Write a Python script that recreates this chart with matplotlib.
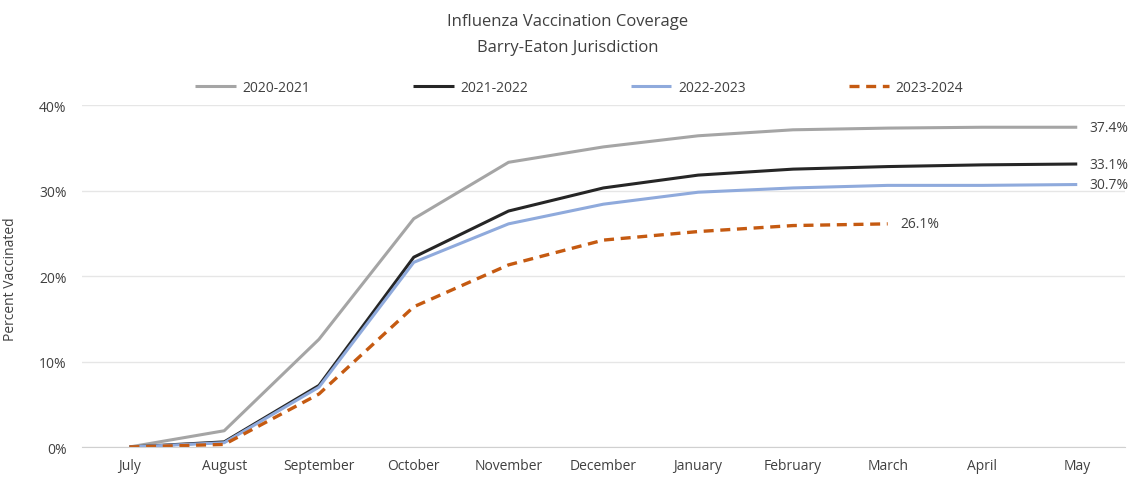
import matplotlib
matplotlib.use("Agg")
import matplotlib.pyplot as plt
from matplotlib.ticker import FuncFormatter

months = ["July", "August", "September", "October", "November", "December",
          "January", "February", "March", "April", "May"]
s2020 = [0.0, 1.9, 12.6, 26.7, 33.3, 35.1, 36.4, 37.1, 37.3, 37.4, 37.4]
s2021 = [0.0, 0.6, 7.2, 22.2, 27.6, 30.3, 31.8, 32.5, 32.8, 33.0, 33.1]
s2022 = [0.0, 0.5, 7.0, 21.6, 26.1, 28.4, 29.8, 30.3, 30.6, 30.6, 30.7]
s2023 = [0.0, 0.3, 6.2, 16.4, 21.3, 24.2, 25.2, 25.9, 26.1]
series_names = ["2020-2021", "2021-2022", "2022-2023", "2023-2024"]
end_labels = ["37.4%", "33.1%", "30.7%", "26.1%"]
yticks = [0, 10, 20, 30, 40]

plt.rcParams['font.family'] = ['Open Sans', 'DejaVu Sans']

fig = plt.figure(figsize=(11.36, 4.81), dpi=100)
ax = fig.add_axes([0.0722, 0.0686, 0.9178, 0.711])

x = list(range(len(months)))
styles = [
    dict(color="#a5a5a5", lw=2.2, ls="-"),
    dict(color="#262626", lw=2.2, ls="-"),
    dict(color="#8faadc", lw=2.2, ls="-"),
    dict(color="#c55a11", lw=2.4, ls=(0, (3, 2))),
]
data = [s2020, s2021, s2022, s2023]
handles = []
for name, d, st in zip(series_names, data, styles):
    h, = ax.plot(x[:len(d)], d, label=name, solid_capstyle="butt", **st)
    handles.append(h)

for d, lab in zip(data, end_labels):
    ax.text(len(d) - 1 + 0.13, d[-1], lab, fontsize=10, color="#404040",
            va="center", ha="left")

ax.set_xlim(-0.5, 10.5)
ax.set_ylim(0, 40)
ax.set_yticks(yticks)
ax.yaxis.set_major_formatter(FuncFormatter(lambda v, p: f"{int(v)}%"))
ax.set_xticks(x)
ax.set_xticklabels(months)
ax.tick_params(axis="both", length=0, labelsize=10, colors="#404040")
ax.tick_params(axis="x", pad=8)
ax.tick_params(axis="y", pad=11)
ax.grid(axis="y", color="#e6e6e6", lw=1)
ax.set_axisbelow(True)
for sp in ["top", "right", "left"]:
    ax.spines[sp].set_visible(False)
ax.spines["bottom"].set_color("#d0d0d0")

fig.text(0.5, 0.955, "Influenza Vaccination Coverage", ha="center", va="center",
         fontsize=12, color="#404040")
fig.text(0.5, 0.9, "Barry-Eaton Jurisdiction", ha="center", va="center",
         fontsize=12, color="#404040")

fig.text(0.009, 0.42, "Percent Vaccinated", rotation=90, ha="center", va="center",
         fontsize=10, color="#404040")

fig.legend(handles=handles, labels=series_names, loc="center left",
           bbox_to_anchor=(0.161, 0.817), ncol=4, frameon=False, fontsize=10,
           handlelength=2.9, handletextpad=0.5, columnspacing=7.4,
           labelcolor="#404040")

fig.savefig("out.png", dpi=100)
